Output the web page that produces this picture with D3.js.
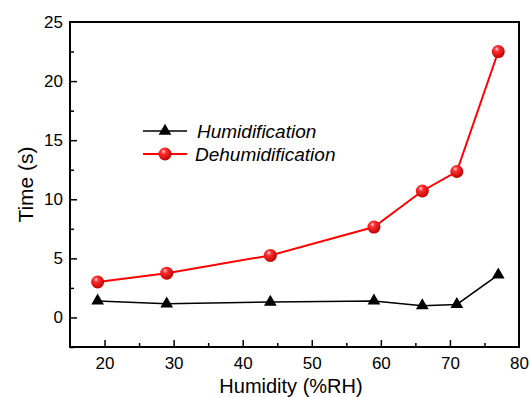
<!DOCTYPE html>
<html>
<head>
<meta charset="utf-8">
<script src="https://cdn.jsdelivr.net/npm/d3@7"></script>
<style>
  body { margin: 0; background: #fff; }
  svg { display: block; font-family: "Liberation Sans", Arial, sans-serif; }
</style>
</head>
<body>
<div id="chart"></div>
<script>
const humidity = [19, 29, 44, 59, 66, 71, 77];
const humidification = [1.4, 1.15, 1.3, 1.4, 1.0, 1.1, 3.6];
const dehumidification = [3.0, 3.75, 5.25, 7.65, 10.7, 12.35, 22.5];
const xTicks = [20, 30, 40, 50, 60, 70, 80];
const yTicks = [0, 5, 10, 15, 20, 25];

const width = 530;
const height = 397;
const margin = {top: 22, right: 11, bottom: 50, left: 70};

const svg = d3.select('#chart')
  .append('svg')
  .attr('width', width)
  .attr('height', height);

const defs = svg.append('defs');
const grad = defs.append('radialGradient')
  .attr('id', 'ball')
  .attr('cx', '40%').attr('cy', '35%').attr('r', '65%')
  .attr('fx', '38%').attr('fy', '30%');
grad.append('stop').attr('offset', '0%').attr('stop-color', '#ffd0d0');
grad.append('stop').attr('offset', '30%').attr('stop-color', '#ff3030');
grad.append('stop').attr('offset', '100%').attr('stop-color', '#c00000');

const x = d3.scaleLinear()
  .domain([15, 80])
  .range([margin.left, width - margin.right]);

const y = d3.scaleLinear()
  .domain([-2.5, 25])
  .range([height - margin.bottom, margin.top]);

//Frame
svg.append('rect')
  .attr('x', x(15))
  .attr('y', y(25))
  .attr('width', x(80) - x(15))
  .attr('height', y(-2.5) - y(25))
  .attr('fill', 'none')
  .attr('stroke', '#000')
  .attr('stroke-width', 2);

//Axes, ticks inward
const xAxis = svg.append('g')
  .attr('transform', `translate(0,${y(-2.5)})`)
  .call(d3.axisBottom(x).tickValues(xTicks).tickSize(-7).tickPadding(10).tickSizeOuter(0));
xAxis.selectAll('.tick').filter(d => d === 80).select('line').remove();

const xMinor = svg.append('g')
  .attr('transform', `translate(0,${y(-2.5)})`)
  .call(d3.axisBottom(x).tickValues([25, 35, 45, 55, 65, 75]).tickSize(-4).tickFormat('').tickSizeOuter(0));

const yAxis = svg.append('g')
  .attr('transform', `translate(${x(15)},0)`)
  .call(d3.axisLeft(y).tickValues(yTicks).tickSize(-7).tickPadding(7).tickSizeOuter(0));
yAxis.selectAll('.tick').filter(d => d === 25).select('line').remove();

const yMinor = svg.append('g')
  .attr('transform', `translate(${x(15)},0)`)
  .call(d3.axisLeft(y).tickValues([-2.5, 2.5, 7.5, 12.5, 17.5, 22.5]).tickSize(-4).tickFormat('').tickSizeOuter(0));

[xAxis, xMinor, yAxis, yMinor].forEach(g => {
  g.select('.domain').remove();
  g.selectAll('line').attr('stroke', '#000').attr('stroke-width', 1.5);
  g.selectAll('text').attr('font-size', 17).attr('fill', '#000')
    .attr('font-family', '"Liberation Sans", Arial, sans-serif');
});

//Axis titles
svg.append('text')
  .attr('x', 291)
  .attr('y', 393)
  .attr('text-anchor', 'middle')
  .attr('font-size', 20)
  .text('Humidity (%RH)');

svg.append('text')
  .attr('transform', `translate(33,${(y(-2.5) + y(25)) / 2}) rotate(-90)`)
  .attr('text-anchor', 'middle')
  .attr('font-size', 21)
  .text('Time (s)');

const line = d3.line()
  .x(d => x(d[0]))
  .y(d => y(d[1]));

const triangle = d3.symbol().type(d3.symbolTriangle).size(70);

//Humidification
const hData = humidity.map((h, i) => [h, humidification[i]]);
svg.append('path')
  .datum(hData)
  .attr('fill', 'none')
  .attr('stroke', '#000')
  .attr('stroke-width', 1.5)
  .attr('d', line);
svg.selectAll('.tri')
  .data(hData)
  .enter().append('path')
  .attr('class', 'tri')
  .attr('transform', d => `translate(${x(d[0])},${y(d[1])})`)
  .attr('d', triangle)
  .attr('fill', '#000');

//Dehumidification
const dData = humidity.map((h, i) => [h, dehumidification[i]]);
svg.append('path')
  .datum(dData)
  .attr('fill', 'none')
  .attr('stroke', '#ff0000')
  .attr('stroke-width', 2)
  .attr('d', line);
svg.selectAll('.ball')
  .data(dData)
  .enter().append('circle')
  .attr('class', 'ball')
  .attr('cx', d => x(d[0]))
  .attr('cy', d => y(d[1]))
  .attr('r', 6.5)
  .attr('fill', 'url(#ball)');

//Legend
const legend = svg.append('g').attr('transform', 'translate(143,131)');
legend.append('line').attr('x1', 0).attr('x2', 44).attr('y1', 0).attr('y2', 0)
  .attr('stroke', '#000').attr('stroke-width', 1.5);
legend.append('path').attr('transform', 'translate(22,0)').attr('d', triangle).attr('fill', '#000');
legend.append('text').attr('x', 54).attr('y', 7).attr('font-size', 19)
  .attr('font-style', 'italic').text('Humidification');

legend.append('line').attr('x1', 0).attr('x2', 44).attr('y1', 23).attr('y2', 23)
  .attr('stroke', '#ff0000').attr('stroke-width', 2);
legend.append('circle').attr('cx', 22).attr('cy', 23).attr('r', 6.5).attr('fill', 'url(#ball)');
legend.append('text').attr('x', 52).attr('y', 30).attr('font-size', 19)
  .attr('font-style', 'italic').text('Dehumidification');
</script>
</body>
</html>
